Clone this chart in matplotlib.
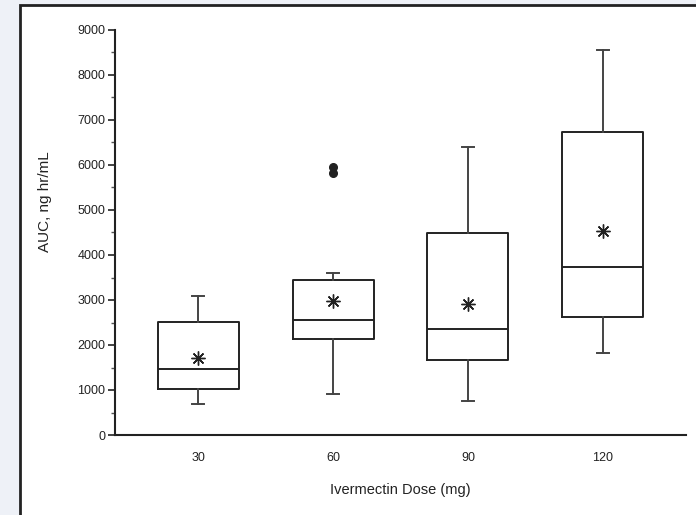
import matplotlib.pyplot as plt
from matplotlib.patches import Rectangle
from matplotlib.ticker import MultipleLocator

plt.rcParams['font.family'] = ['Liberation Sans', 'DejaVu Sans']

# ivermectin dose groups and AUC box statistics (ng hr/mL)
doses = ["30", "60", "90", "120"]
whislo = [690, 910, 760, 1815]
q1 = [1020, 2135, 1665, 2630]
med = [1467, 2556, 2363, 3741]
q3 = [2511, 3444, 4496, 6741]
whishi = [3090, 3600, 6407, 8556]
means = [1720, 2980, 2904, 4541]
outliers = [[], [5820, 5950], [], []]

stats = []
for i in range(len(doses)):
    stats.append({"label": doses[i], "whislo": whislo[i], "q1": q1[i], "med": med[i],
                  "q3": q3[i], "whishi": whishi[i], "mean": means[i], "fliers": outliers[i]})

fig = plt.figure(figsize=(6.96, 5.15), dpi=100)
fig.patch.set_facecolor("#eef1f7")

# white panel with black frame, kept behind the axes
fig.patches.append(Rectangle((20 / 696, -0.05), 1.1, 1 - 5 / 515 + 0.05, transform=fig.transFigure,
                             facecolor="white", edgecolor="#222222", linewidth=2, zorder=-10))

ax = fig.add_axes([115 / 696, 1 - 435 / 515, (686 - 115) / 696, (435 - 30) / 515])
ax.set_facecolor("white")

line = dict(color="#222222", linewidth=1.4)
ax.bxp(stats, positions=[1, 2, 3, 4], widths=0.6, showmeans=True,
       boxprops=line, medianprops=line, whiskerprops=dict(color="#444444", linewidth=1.4),
       capprops=dict(color="#444444", linewidth=1.4), capwidths=0.09,
       meanprops=dict(marker=(8, 2, 0), markersize=10, markeredgecolor="#222222",
                      markerfacecolor="#222222", markeredgewidth=1.0),
       flierprops=dict(marker="o", markersize=5.5, markerfacecolor="#222222",
                       markeredgecolor="#222222"))

ax.set_xlim(0.385, 4.615)
ax.set_ylim(0, 9000)
ax.yaxis.set_major_locator(MultipleLocator(1000))
ax.yaxis.set_minor_locator(MultipleLocator(500))

for s in ["top", "right"]:
    ax.spines[s].set_visible(False)
for s in ["left", "bottom"]:
    ax.spines[s].set_linewidth(1.5)
    ax.spines[s].set_color("#222222")

ax.tick_params(axis="y", which="major", length=5, width=1.2, labelsize=9, colors="#222222", pad=2)
ax.tick_params(axis="y", which="minor", length=3, width=1.0, color="#555555")
ax.tick_params(axis="x", length=0, labelsize=9, pad=12, colors="#222222")

ax.set_ylabel("AUC, ng hr/mL", fontsize=11, color="#222222")
ax.yaxis.set_label_coords(-0.11, 0.575)
ax.set_xlabel("Ivermectin Dose (mg)", fontsize=10.5, color="#222222", labelpad=14)

fig.savefig("out.png", dpi=100)
